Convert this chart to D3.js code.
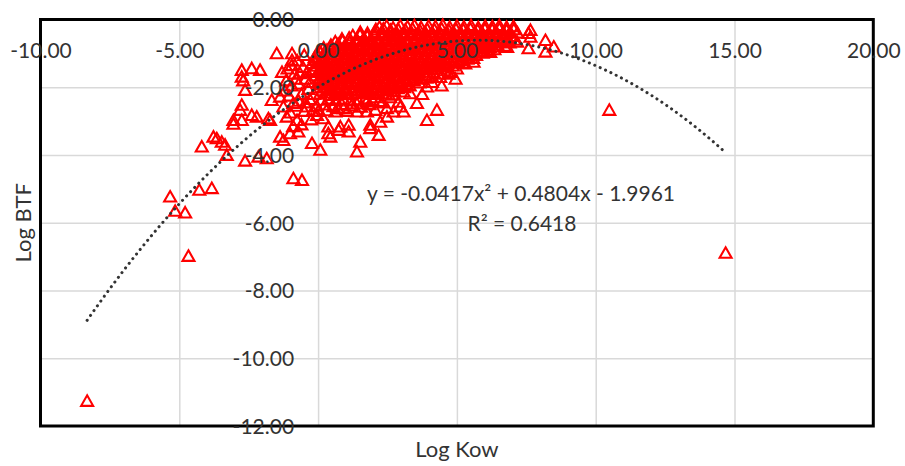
<!DOCTYPE html>
<html>
<head>
<meta charset="utf-8">
<script src="https://cdn.jsdelivr.net/npm/d3@7"></script>
<style>
  body { margin: 0; background: #fff; }
  text { font-family: Lato, "Open Sans", sans-serif; fill: #333; }
</style>
</head>
<body>
<svg id="chart" width="905" height="466"></svg>
<script>
// Axis ticks
const xTicks = [-10, -5, 0, 5, 10, 15, 20];
const yTicks = [0, -2, -4, -6, -8, -10, -12];

// Quadratic fit: y = a x^2 + b x + c
const fitCoef = [-0.0417, 0.4804, -1.9961];
const rSquared = 0.6418;

// [log Kow, log BTF] — compounds with negative / low log Kow
const lowKow = [
  [-8.32,-11.26],
  [-5.33,-5.23],[-5.15,-5.65],[-4.79,-5.70],[-4.28,-5.03],[-3.83,-4.98],[-4.67,-6.98],
  [-3.29,-4.00],[-2.63,-4.17],[-2.15,-4.05],[-1.85,-4.10],[-0.89,-4.69],[-0.58,-4.74],
  [-4.19,-3.75],[-3.77,-3.46],[-3.65,-3.51],[-3.47,-3.61],[-3.35,-3.70],
  [-3.05,-2.97],[-3.05,-3.08],[-2.75,-2.97],[-2.39,-2.82],[-2.21,-2.87],[-1.79,-2.92],[-1.73,-2.97],
  [-2.75,-1.49],[-2.39,-1.44],[-2.09,-1.49],[-2.75,-1.69],[-2.70,-1.80],[-2.63,-2.08],[-2.75,-2.52],[-2.81,-2.67],
  [-1.49,-1.00],[-0.94,-1.00],[-0.94,-1.20],
  [-1.37,-3.46],[-1.25,-3.56],[-1.01,-3.36],[-0.71,-3.31],[-0.22,-3.65],[0.08,-3.85],
  [-1.67,-2.38],[-1.37,-2.28],[-1.25,-2.57],[-1.13,-2.87],[-0.76,-2.97],[-0.40,-2.57],[-0.89,-2.47],
  [-0.65,-1.59],[-0.17,-1.49],
  [-0.95,-1.35],[-0.75,-1.22],[-0.55,-1.40],[-0.85,-1.60],[-0.45,-1.75],[-0.70,-1.90],[-0.95,-1.95],
  [-0.35,-2.05],[-0.60,-2.20],[-1.05,-2.25],[-0.30,-2.35],[-0.80,-2.55],[-0.50,-2.70],[-1.00,-2.75],
  [-0.25,-2.95],[-0.60,-3.10],[-0.90,-3.15],[-1.15,-1.80],[-0.40,-1.55],[-1.20,-2.10],
  [-0.15,-1.20],[-0.50,-1.05],[-0.30,-1.85],[-0.80,-1.75],[-0.15,-2.20],[-0.45,-2.45],[-0.70,-2.40],
  [-0.20,-2.70],[-1.30,-1.55],[-1.10,-1.45]
];

// Scattered compounds below the main band, log Kow 0–7
const midKow = [
  [0.37,-3.16],[0.44,-3.46],[0.80,-3.16],[1.10,-3.31],[1.52,-3.61],[1.40,-3.90],[1.88,-3.11],
  [2.18,-3.41],[2.24,-3.02],[2.48,-2.87],[2.96,-2.57],[3.08,-2.72],[3.56,-2.47],[3.92,-2.97],
  [4.28,-2.67],[1.52,-0.41],[3.92,-1.98],[3.32,-2.18],[2.90,-2.43],[1.88,-3.21],[0.37,-3.36],
  [0.74,-3.26],[1.10,-3.11],[-0.04,-2.82],[0.19,-2.92],[0.62,-2.72],[0.92,-2.62],[1.40,-2.72],
  [1.76,-2.72],[2.06,-2.67],[2.48,-2.62],[2.72,-2.72],[3.08,-2.13],[0.44,-2.23],
  [2.30,-2.45],[2.60,-2.30],[1.85,-2.50],[3.30,-1.95],[3.75,-2.20],[4.10,-1.85],[4.40,-1.70],
  [4.70,-1.60],[5.00,-1.45],[5.30,-1.30],[5.60,-1.25],[4.95,-1.75],[4.45,-1.95],[4.77,-1.55],
  [5.23,-1.28],[5.59,-1.14],[6.20,-0.96],[6.81,-0.81],[7.17,-0.66]
];

// Main band of compounds, log Kow 0–7.3
const coreBand = [
  [2.21,-0.22],[2.47,-0.19],[2.70,-0.24],[2.96,-0.18],[3.22,-0.21],[3.47,-0.17],[3.71,-0.23],
  [3.98,-0.19],[4.23,-0.20],[4.49,-0.16],[4.74,-0.22],[5.00,-0.18],[5.25,-0.21],[5.51,-0.17],
  [5.77,-0.23],[6.02,-0.19],[6.28,-0.20],[6.53,-0.17],[6.79,-0.22],[7.04,-0.20],

  [1.52,-0.37],[1.78,-0.40],[2.04,-0.36],[2.33,-0.39],[2.58,-0.35],[2.84,-0.40],[3.09,-0.38],
  [3.35,-0.36],[3.60,-0.41],[3.86,-0.37],[4.11,-0.39],[4.37,-0.35],[4.62,-0.40],[4.88,-0.37],
  [5.13,-0.39],[5.38,-0.36],[5.64,-0.40],[5.90,-0.37],[6.15,-0.39],[6.41,-0.35],[6.66,-0.40],
  [6.92,-0.37],[7.18,-0.39],

  [0.86,-0.57],[1.12,-0.54],[1.39,-0.58],[1.65,-0.55],[1.91,-0.59],[2.17,-0.56],[2.44,-0.53],
  [2.70,-0.58],[2.95,-0.55],[3.21,-0.57],[3.48,-0.54],[3.73,-0.59],[3.99,-0.56],[4.25,-0.53],
  [4.50,-0.58],[4.76,-0.55],[5.02,-0.57],[5.28,-0.54],[5.53,-0.59],[5.79,-0.56],[6.05,-0.53],
  [6.30,-0.58],[6.56,-0.55],[6.82,-0.57],[7.08,-0.60],

  [0.46,-0.75],[0.72,-0.72],[0.98,-0.76],[1.25,-0.73],[1.51,-0.77],[1.77,-0.74],[2.03,-0.71],
  [2.29,-0.76],[2.55,-0.73],[2.82,-0.75],[3.08,-0.72],[3.34,-0.77],[3.60,-0.74],[3.86,-0.71],
  [4.12,-0.76],[4.38,-0.73],[4.64,-0.75],[4.90,-0.72],[5.16,-0.77],[5.42,-0.74],[5.68,-0.71],
  [5.94,-0.76],[6.20,-0.73],[6.46,-0.75],[6.72,-0.78],

  [0.06,-0.93],[0.32,-0.90],[0.59,-0.94],[0.85,-0.91],[1.11,-0.95],[1.37,-0.92],[1.63,-0.89],
  [1.89,-0.94],[2.16,-0.91],[2.42,-0.93],[2.68,-0.90],[2.94,-0.95],[3.20,-0.92],[3.47,-0.89],
  [3.73,-0.94],[3.99,-0.91],[4.25,-0.93],[4.51,-0.90],[4.78,-0.95],[5.04,-0.92],[5.30,-0.89],
  [5.56,-0.94],[5.82,-0.91],[6.10,-0.93],[6.35,-0.88],

  [-0.12,-1.11],[0.19,-1.08],[0.45,-1.12],[0.72,-1.09],[0.98,-1.13],[1.24,-1.10],[1.50,-1.07],
  [1.76,-1.12],[2.03,-1.09],[2.29,-1.11],[2.55,-1.08],[2.81,-1.13],[3.07,-1.10],[3.34,-1.07],
  [3.60,-1.12],[3.86,-1.09],[4.12,-1.11],[4.38,-1.08],[4.65,-1.13],[4.91,-1.10],[5.17,-1.07],
  [5.43,-1.12],[5.69,-1.05],

  [-0.21,-1.29],[0.06,-1.26],[0.32,-1.30],[0.58,-1.27],[0.85,-1.31],[1.11,-1.28],[1.37,-1.25],
  [1.63,-1.30],[1.90,-1.27],[2.16,-1.29],[2.42,-1.26],[2.68,-1.31],[2.94,-1.28],[3.21,-1.25],
  [3.47,-1.30],[3.73,-1.27],[3.99,-1.29],[4.25,-1.26],[4.52,-1.31],[4.78,-1.28],[5.05,-1.24],

  [-0.18,-1.47],[0.10,-1.44],[0.37,-1.48],[0.63,-1.45],[0.90,-1.49],[1.16,-1.46],[1.42,-1.43],
  [1.68,-1.48],[1.95,-1.45],[2.21,-1.47],[2.47,-1.44],[2.73,-1.49],[3.00,-1.46],[3.26,-1.43],
  [3.52,-1.48],[3.78,-1.45],[4.05,-1.47],[4.31,-1.44],[4.55,-1.50],

  [-0.08,-1.65],[0.19,-1.62],[0.45,-1.66],[0.71,-1.63],[0.98,-1.67],[1.24,-1.64],[1.50,-1.61],
  [1.77,-1.66],[2.03,-1.63],[2.29,-1.65],[2.56,-1.62],[2.82,-1.67],[3.08,-1.64],[3.34,-1.61],
  [3.61,-1.66],[3.87,-1.63],[4.10,-1.68],

  [0.02,-1.83],[0.28,-1.80],[0.55,-1.84],[0.81,-1.81],[1.07,-1.85],[1.34,-1.82],[1.60,-1.79],
  [1.86,-1.84],[2.13,-1.81],[2.39,-1.83],[2.65,-1.80],[2.92,-1.85],[3.18,-1.82],[3.44,-1.79],
  [3.65,-1.86],

  [-0.02,-2.01],[0.24,-1.98],[0.50,-2.02],[0.77,-1.99],[1.03,-2.03],[1.29,-2.00],[1.56,-1.97],
  [1.82,-2.02],[2.08,-1.99],[2.35,-2.01],[2.61,-1.98],[2.87,-2.03],[3.10,-2.00],

  [0.07,-2.19],[0.33,-2.16],[0.60,-2.20],[0.86,-2.17],[1.12,-2.21],[1.39,-2.18],[1.65,-2.15],
  [1.91,-2.20],[2.18,-2.17],[2.44,-2.19],[2.70,-2.22],

  [0.12,-2.37],[0.38,-2.34],[0.64,-2.38],[0.91,-2.35],[1.17,-2.39],[1.43,-2.36],[1.70,-2.33],
  [1.96,-2.38],[2.20,-2.41],

  [-0.05,-2.55],[0.25,-2.51],[0.55,-2.56],[0.86,-2.50],[1.20,-2.54],[1.55,-2.58],

  [0.30,-2.68],[0.70,-2.62],[1.05,-2.70],[0.00,-2.70],[1.40,-2.48],[1.75,-2.42],[2.05,-2.30],
  [2.45,-2.05],[2.75,-2.12],[3.00,-1.90],[3.30,-1.72],[3.60,-1.55],[3.90,-1.40],[4.20,-1.35],
  [4.60,-1.22],[4.90,-1.00],[5.30,-0.98],[5.70,-0.85],[6.10,-0.80],[6.50,-0.65],[6.90,-0.68]
];

// Further compounds inside the main band
const coreBandInner = [
  [2.08,-0.29],[2.35,-0.27],[2.61,-0.31],[2.88,-0.28],[3.14,-0.30],[3.40,-0.27],[3.66,-0.31],
  [3.93,-0.28],[4.19,-0.30],[4.45,-0.27],[4.71,-0.31],[4.97,-0.28],[5.23,-0.30],[5.49,-0.27],
  [5.75,-0.31],[6.01,-0.28],[6.27,-0.30],[6.53,-0.27],[6.79,-0.31],[7.05,-0.29],

  [1.25,-0.47],[1.51,-0.45],[1.77,-0.49],[2.03,-0.46],[2.29,-0.48],[2.55,-0.45],[2.81,-0.49],
  [3.07,-0.46],[3.33,-0.48],[3.59,-0.45],[3.85,-0.49],[4.11,-0.46],[4.37,-0.48],[4.63,-0.45],
  [4.89,-0.49],[5.15,-0.46],[5.41,-0.48],[5.67,-0.45],[5.93,-0.49],[6.19,-0.46],[6.45,-0.48],
  [6.71,-0.45],[6.97,-0.49],

  [0.62,-0.65],[0.88,-0.63],[1.14,-0.67],[1.40,-0.64],[1.66,-0.66],[1.92,-0.63],[2.18,-0.67],
  [2.44,-0.64],[2.70,-0.66],[2.96,-0.63],[3.22,-0.67],[3.48,-0.64],[3.74,-0.66],[4.00,-0.63],
  [4.26,-0.67],[4.52,-0.64],[4.78,-0.66],[5.04,-0.63],[5.30,-0.67],[5.56,-0.64],[5.82,-0.66],
  [6.08,-0.63],[6.34,-0.67],[6.60,-0.64],[6.86,-0.66],

  [0.20,-0.83],[0.46,-0.81],[0.72,-0.85],[0.98,-0.82],[1.24,-0.84],[1.50,-0.81],[1.76,-0.85],
  [2.02,-0.82],[2.28,-0.84],[2.54,-0.81],[2.80,-0.85],[3.06,-0.82],[3.32,-0.84],[3.58,-0.81],
  [3.84,-0.85],[4.10,-0.82],[4.36,-0.84],[4.62,-0.81],[4.88,-0.85],[5.14,-0.82],[5.40,-0.84],
  [5.66,-0.81],[5.92,-0.85],[6.18,-0.82],[6.44,-0.80],

  [-0.05,-1.01],[0.21,-0.99],[0.47,-1.03],[0.73,-1.00],[0.99,-1.02],[1.25,-0.99],[1.51,-1.03],
  [1.77,-1.00],[2.03,-1.02],[2.29,-0.99],[2.55,-1.03],[2.81,-1.00],[3.07,-1.02],[3.33,-0.99],
  [3.59,-1.03],[3.85,-1.00],[4.11,-1.02],[4.37,-0.99],[4.63,-1.03],[4.89,-1.00],[5.15,-1.02],
  [5.41,-0.99],[5.67,-1.03],[5.93,-0.98],

  [-0.08,-1.19],[0.18,-1.17],[0.44,-1.21],[0.70,-1.18],[0.96,-1.20],[1.22,-1.17],[1.48,-1.21],
  [1.74,-1.18],[2.00,-1.20],[2.26,-1.17],[2.52,-1.21],[2.78,-1.18],[3.04,-1.20],[3.30,-1.17],
  [3.56,-1.21],[3.82,-1.18],[4.08,-1.20],[4.34,-1.17],[4.60,-1.21],[4.86,-1.18],[5.12,-1.20],
  [5.38,-1.16],

  [-0.05,-1.37],[0.21,-1.35],[0.47,-1.39],[0.73,-1.36],[0.99,-1.38],[1.25,-1.35],[1.51,-1.39],
  [1.77,-1.36],[2.03,-1.38],[2.29,-1.35],[2.55,-1.39],[2.81,-1.36],[3.07,-1.38],[3.33,-1.35],
  [3.59,-1.39],[3.85,-1.36],[4.11,-1.38],[4.37,-1.35],[4.63,-1.39],[4.85,-1.36],

  [0.00,-1.55],[0.26,-1.53],[0.52,-1.57],[0.78,-1.54],[1.04,-1.56],[1.30,-1.53],[1.56,-1.57],
  [1.82,-1.54],[2.08,-1.56],[2.34,-1.53],[2.60,-1.57],[2.86,-1.54],[3.12,-1.56],[3.38,-1.53],
  [3.64,-1.57],[3.90,-1.54],[4.16,-1.56],[4.35,-1.60],

  [0.05,-1.73],[0.31,-1.71],[0.57,-1.75],[0.83,-1.72],[1.09,-1.74],[1.35,-1.71],[1.61,-1.75],
  [1.87,-1.72],[2.13,-1.74],[2.39,-1.71],[2.65,-1.75],[2.91,-1.72],[3.17,-1.74],[3.43,-1.71],
  [3.69,-1.75],[3.90,-1.72],

  [0.10,-1.91],[0.36,-1.89],[0.62,-1.93],[0.88,-1.90],[1.14,-1.92],[1.40,-1.89],[1.66,-1.93],
  [1.92,-1.90],[2.18,-1.92],[2.44,-1.89],[2.70,-1.93],[2.96,-1.90],[3.20,-1.92],

  [0.15,-2.09],[0.41,-2.07],[0.67,-2.11],[0.93,-2.08],[1.19,-2.10],[1.45,-2.07],[1.71,-2.11],
  [1.97,-2.08],[2.23,-2.10],[2.49,-2.07],[2.72,-2.10]
];

// Highly lipophilic compounds
const highKow = [
  [7.65,-0.31],[7.65,-0.51],[7.58,-0.85],[8.19,-0.61],[8.49,-0.80],[8.19,-0.95],[7.58,-0.40],
  [10.49,-2.67],[14.68,-6.89]
];

const allPoints = lowKow.concat(midKow, coreBand, coreBandInner, highKow);

const svg = d3.select("#chart");
const plot = { left: 40.5, right: 873.3, top: 19.5, bottom: 426 };

const x = d3.scaleLinear().domain([-10, 20]).range([plot.left, plot.right]);
const y = d3.scaleLinear().domain([-12, 0]).range([plot.bottom, plot.top]);

const fmt = d3.formatLocale({ decimal: ".", thousands: ",", grouping: [3], currency: ["", ""], minus: "-" }).format(".2f");

// Gridlines
svg.append("g")
  .attr("transform", `translate(0,${plot.bottom})`)
  .call(d3.axisBottom(x).tickValues(xTicks.slice(1, -1)).tickSize(-(plot.bottom - plot.top)).tickFormat(""))
  .call(g => g.select(".domain").remove())
  .call(g => g.selectAll("line").attr("stroke", "#d9d9d9").attr("stroke-width", 1.5));

svg.append("g")
  .attr("transform", `translate(${plot.left},0)`)
  .call(d3.axisLeft(y).tickValues(yTicks.slice(1, -1)).tickSize(-(plot.right - plot.left)).tickFormat(""))
  .call(g => g.select(".domain").remove())
  .call(g => g.selectAll("line").attr("stroke", "#d9d9d9").attr("stroke-width", 1.5));

// Plot frame
svg.append("rect")
  .attr("x", plot.left).attr("y", plot.top)
  .attr("width", plot.right - plot.left).attr("height", plot.bottom - plot.top)
  .attr("fill", "none").attr("stroke", "#000").attr("stroke-width", 3);

// Open triangle markers
const tri = "M0,-5.6L6,4.9L-6,4.9Z";
svg.append("g")
  .selectAll("path")
  .data(allPoints)
  .join("path")
  .attr("d", tri)
  .attr("transform", d => `translate(${x(d[0])},${y(d[1])})`)
  .attr("fill", "none")
  .attr("stroke", "#ff0000")
  .attr("stroke-width", 2.1);

// Polynomial trendline across the observed log Kow range
const [xMin, xMax] = d3.extent(allPoints, d => d[0]);
const fit = v => fitCoef[0] * v * v + fitCoef[1] * v + fitCoef[2];
const trendX = d3.range(xMin, xMax, 0.05).concat([xMax]);
svg.append("path")
  .datum(trendX)
  .attr("d", d3.line().x(v => x(v)).y(v => y(fit(v))))
  .attr("fill", "none")
  .attr("stroke", "#333")
  .attr("stroke-width", 3)
  .attr("stroke-linecap", "round")
  .attr("stroke-dasharray", "0.1 5.8");

// Tick labels (axes cross at the origin)
const xAxis = svg.append("g")
  .attr("transform", "translate(0,51)")
  .call(d3.axisBottom(x).tickValues(xTicks).tickSize(0).tickFormat(fmt));
xAxis.select(".domain").remove();
xAxis.selectAll("text").attr("y", 0).attr("dy", "0.35em")
  .style("font-size", "21px").style("font-family", "Lato").attr("fill", "#333");

const yAxis = svg.append("g")
  .attr("transform", `translate(${x(0)},0)`)
  .call(d3.axisLeft(y).tickValues(yTicks).tickSize(0).tickPadding(24).tickFormat(fmt));
yAxis.select(".domain").remove();
yAxis.selectAll("text").attr("dy", "0.35em")
  .style("font-size", "21px").style("font-family", "Lato").attr("fill", "#333");

// Axis titles
svg.append("text")
  .attr("x", (plot.left + plot.right) / 2).attr("y", 457)
  .attr("text-anchor", "middle")
  .style("font-size", "22px")
  .text("Log Kow");

svg.append("text")
  .attr("transform", `translate(31,${(plot.top + plot.bottom) / 2}) rotate(-90)`)
  .attr("text-anchor", "middle")
  .style("font-size", "22px")
  .text("Log BTF");

// Trendline equation and goodness of fit
const eq = `y = ${fitCoef[0]}x² + ${fitCoef[1]}x - ${Math.abs(fitCoef[2])}`;
svg.append("text")
  .attr("x", 521).attr("y", 201)
  .attr("text-anchor", "middle")
  .style("font-size", "21px")
  .text(eq);
svg.append("text")
  .attr("x", 522).attr("y", 231)
  .attr("text-anchor", "middle")
  .style("font-size", "21px")
  .text(`R² = ${rSquared}`);
</script>
</body>
</html>
